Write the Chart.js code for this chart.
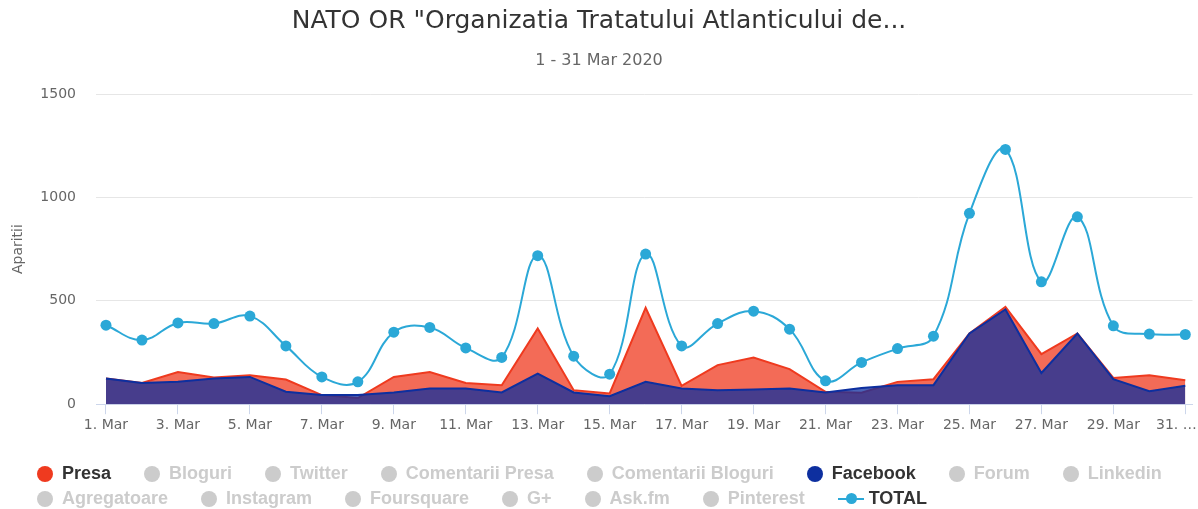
<!DOCTYPE html>
<html>
<head>
<meta charset="utf-8">
<script src="https://cdn.jsdelivr.net/npm/chart.js@4.4.1/dist/chart.umd.min.js"></script>
<style>
    body { margin: 0; background: #fff; }
    #wrap { position: relative; width: 1198px; height: 509px; }
    #legend {
        position: absolute; left: 37px; top: 461px;
        display: flex; flex-wrap: wrap; width: 1160px;
        font: bold 18px "Liberation Sans", Arial, sans-serif;
    }
    .item { display: flex; align-items: center; height: 25px; margin-right: 33px; color: #ccc; white-space: nowrap; }
    .item.on { color: #333; }
    .dot { width: 16px; height: 16px; border-radius: 50%; background: #ccc; margin-right: 9px; }
    .lineSym { position: relative; width: 26px; height: 2px; margin-right: 5px; }
    .lineSym i { position: absolute; left: 8px; top: -4.5px; width: 11px; height: 11px; border-radius: 50%; }
    .brk { flex-basis: 100%; height: 0; }
</style>
</head>
<body>
<div id="wrap">
    <canvas id="chart" width="1198" height="509"></canvas>
    <div id="legend"></div>
</div>
<script>
// 1. Data
const categories = ['1. Mar', '2. Mar', '3. Mar', '4. Mar', '5. Mar', '6. Mar', '7. Mar', '8. Mar', '9. Mar', '10. Mar',
    '11. Mar', '12. Mar', '13. Mar', '14. Mar', '15. Mar', '16. Mar', '17. Mar', '18. Mar', '19. Mar', '20. Mar',
    '21. Mar', '22. Mar', '23. Mar', '24. Mar', '25. Mar', '26. Mar', '27. Mar', '28. Mar', '29. Mar', '30. Mar', '31. Mar'];

const presa = [124, 103, 156, 129, 140, 119, 44, 30, 132, 156,
    103, 92, 366, 68, 52, 466, 89, 189, 226, 170,
    60, 55, 108, 121, 342, 471, 242, 342, 127, 140, 116];

const facebook = [124, 103, 108, 124, 132, 60, 44, 44, 57, 76,
    76, 57, 148, 57, 39, 108, 76, 68, 71, 76,
    57, 78, 92, 92, 342, 458, 151, 342, 121, 63, 89];

const total = [382, 310, 393, 390, 426, 282, 132, 108, 348, 371,
    272, 226, 718, 232, 145, 726, 282, 390, 450, 363,
    113, 202, 269, 329, 923, 1232, 592, 906, 379, 339, 337];

const tickDays = [1, 3, 5, 7, 9, 11, 13, 15, 17, 19, 21, 23, 25, 27, 29, 31];
const tickLabels = ['1. Mar', '3. Mar', '5. Mar', '7. Mar', '9. Mar', '11. Mar', '13. Mar', '15. Mar',
    '17. Mar', '19. Mar', '21. Mar', '23. Mar', '25. Mar', '27. Mar', '29. Mar', '31. …    '];

const seriesNames = ['Presa', 'Bloguri', 'Twitter', 'Comentarii Presa', 'Comentarii Bloguri', 'Facebook', 'Forum', 'Linkedin',
    'Agregatoare', 'Instagram', 'Foursquare', 'G+', 'Ask.fm', 'Pinterest', 'TOTAL'];
const seriesColors = { Presa: '#ef3a1f', Facebook: '#0d2f9f', TOTAL: '#2ba8d7' };

// 2. Turn a values list into {x, y} points on the day axis
const toPoints = values => values.map((v, i) => ({ x: i + 1, y: v }));

// 3. Chart
const ctx = document.getElementById('chart').getContext('2d');
new Chart(ctx, {
    type: 'line',
    data: {
        datasets: [
            {
                label: 'TOTAL',
                data: toPoints(total),
                borderColor: seriesColors.TOTAL,
                backgroundColor: seriesColors.TOTAL,
                borderWidth: 2,
                pointRadius: 5.5,
                pointBorderWidth: 0,
                tension: 0.4,
                fill: false,
                order: 0
            },
            {
                label: 'Facebook',
                data: toPoints(facebook),
                borderColor: seriesColors.Facebook,
                backgroundColor: 'rgba(13, 47, 159, 0.75)',
                borderWidth: 2,
                pointRadius: 0,
                tension: 0,
                fill: 'origin',
                order: 1
            },
            {
                label: 'Presa',
                data: toPoints(presa),
                borderColor: seriesColors.Presa,
                backgroundColor: 'rgba(239, 58, 31, 0.75)',
                borderWidth: 2,
                pointRadius: 0,
                tension: 0,
                fill: 'origin',
                order: 2
            }
        ]
    },
    options: {
        responsive: false,
        animation: false,
        devicePixelRatio: 1,
        layout: { padding: { left: 0, right: 0, top: 0, bottom: 72 } },
        plugins: {
            legend: { display: false },
            tooltip: { enabled: false },
            title: {
                display: true,
                text: 'NATO OR "Organizatia Tratatului Atlanticului de...',
                color: '#333333',
                font: { family: 'DejaVu Sans', size: 25, weight: 'normal', lineHeight: 1 },
                padding: { top: 9, bottom: 19 }
            },
            subtitle: {
                display: true,
                text: '1 - 31 Mar 2020',
                color: '#666666',
                font: { family: 'DejaVu Sans', size: 16, weight: 'normal', lineHeight: 1 },
                padding: { top: 0, bottom: 25 }
            }
        },
        scales: {
            x: {
                type: 'linear',
                min: 0.7225,
                max: 31.2,
                afterBuildTicks: scale => { scale.ticks = tickDays.map(v => ({ value: v })); },
                afterFit: scale => { scale.paddingLeft = 0; scale.paddingRight = 0; },
                ticks: {
                    autoSkip: false,
                    maxRotation: 0,
                    padding: 3,
                    color: '#666666',
                    font: { family: 'DejaVu Sans', size: 14 },
                    callback: (value, index) => tickLabels[index]
                },
                grid: { drawOnChartArea: false, drawTicks: true, tickLength: 10, color: '#ccd6eb' },
                border: { display: true, color: '#ccd6eb' }
            },
            y: {
                min: 0,
                max: 1500,
                afterFit: scale => { scale.width = 96; },
                ticks: {
                    stepSize: 500,
                    padding: 20,
                    color: '#666666',
                    font: { family: 'DejaVu Sans', size: 14 },
                    callback: value => String(value)
                },
                grid: { color: '#e6e6e6', drawTicks: false },
                border: { display: false },
                title: {
                    display: true,
                    text: 'Aparitii',
                    color: '#666666',
                    font: { family: 'DejaVu Sans', size: 14 },
                    padding: { top: 10, bottom: 0 }
                }
            }
        }
    }
});

// 4. Legend (Highcharts-style, rows aligned to the left)
const legend = document.getElementById('legend');
legend.innerHTML = seriesNames.map((name, i) => {
    const color = seriesColors[name];
    const sym = name === 'TOTAL'
        ? `<span class="lineSym" style="background:${color}"><i style="background:${color}"></i></span>`
        : `<span class="dot"${color ? ` style="background:${color}"` : ''}></span>`;
    const brk = i === 7 ? '<span class="brk"></span>' : '';
    return `<span class="item${color ? ' on' : ''}">${sym}${name}</span>${brk}`;
}).join('');
</script>
</body>
</html>
